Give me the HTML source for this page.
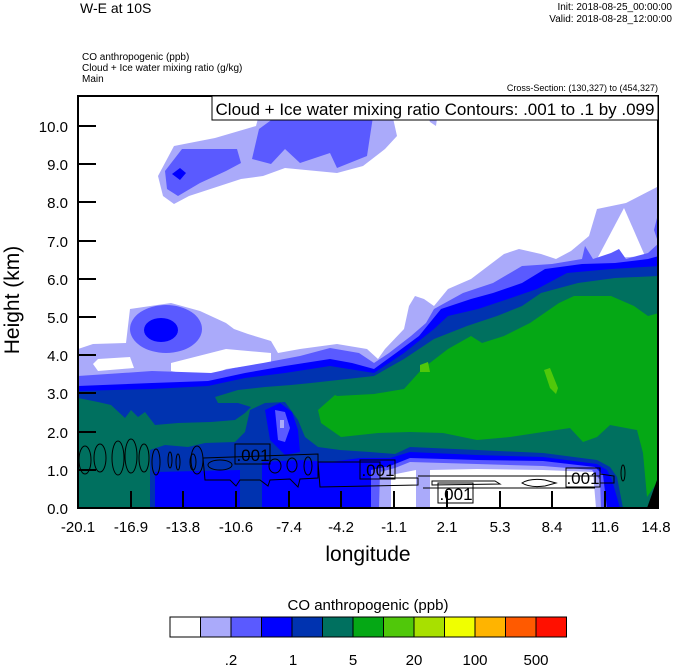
<!DOCTYPE html>
<html><head><meta charset="utf-8"><style>
html,body{margin:0;padding:0;background:#fff;}
svg{display:block;font-family:"Liberation Sans",sans-serif;}
</style></head><body>
<svg width="674" height="667" viewBox="0 0 674 667" xmlns="http://www.w3.org/2000/svg">
<rect width="674" height="667" fill="#fff"/>
<defs><clipPath id="c"><rect x="78" y="96" width="580" height="412"/></clipPath></defs>
<g clip-path="url(#c)">
<!-- upper cloud -->
<polygon fill="#aaaafa" points="158,176 174,146 215,138 256,126 263,100 389,100 397,136 385,149 363,166 337,173 285,168 263,176 241,179 189,196 174,204 163,196"/>
<polygon fill="#aaaafa" points="420,96 440,96 436,126 430,122"/>
<polygon fill="#5a5aff" points="165,171 182,149 237,149 241,163 226,171 200,183 178,196 167,189"/>
<polygon fill="#5a5aff" points="252,159 259,129 285,110 374,110 367,156 337,168 330,153 300,163 285,149 271,164"/>
<polygon fill="#0000ff" points="172,174 180,168 186,173 180,180"/>
<!-- lavender -->
<polygon fill="#aaaafa" points="78,349 93,344 126,343 130,309 171,303 200,311 226,323 234,329 248,334 271,341 278,353 300,349 337,344 367,349 378,359 385,349 404,329 409,306 415,296 424,299 434,306 448,289 471,279 504,254 519,249 541,254 556,259 571,251 589,236 597,209 626,203 659,186 659,508 78,508"/>
<polygon fill="#fff" points="98,359 130,357 134,368 98,371 93,364"/>
<polygon fill="#fff" points="171,363 226,349 271,353 271,363 226,369 204,378 171,371"/>
<polygon fill="#fff" points="597,259 624,208 645,256"/>
<ellipse cx="166" cy="329" rx="36" ry="24" fill="#5a5aff"/>
<ellipse cx="161" cy="330" rx="17" ry="12" fill="#0000ff"/>
<polygon fill="#5a5aff" points="654,230 659,210 659,245"/>
<!-- medium -->
<polygon fill="#5a5aff" points="78,376 152,371 211,373 234,368 263,363 300,356 330,348 359,353 374,363 389,353 411,336 426,323 434,309 463,293 493,283 522,266 552,264 582,259 585,246 593,259 611,253 619,249 626,259 648,253 659,243 659,508 78,508"/>
<!-- blue -->
<polygon fill="#0000ff" points="78,386 152,383 208,381 245,373 285,366 330,359 352,363 374,369 396,353 419,336 441,309 471,299 493,293 522,283 545,269 582,264 615,263 648,259 659,256 659,508 78,508"/>
<!-- dark blue -->
<polygon fill="#0033b0" points="78,391 152,389 208,386 245,378 285,373 330,366 374,373 404,353 434,329 448,316 478,309 508,299 537,289 567,273 611,269 659,266 659,508 78,508"/>
<!-- teal -->
<polygon fill="#00705f" points="78,398 98,402 111,405 125,418 131,410 138,417 145,412 155,425 178,423 211,422 235,420 245,413 251,407 238,403 218,403 215,397 238,390 265,387 291,385 311,383 338,380 374,376 404,359 434,339 467,326 497,316 522,306 541,293 578,283 615,278 659,276 659,508 78,508"/>
<!-- lower dark blue -->
<polygon fill="#0033b0" points="150,508 150,450 165,445 188,447 205,443 235,442 245,432 250,410 265,403 285,402 298,420 305,437 318,447 340,450 370,452 395,454 410,447 477,450 543,453 597,460 610,467 617,477 623,508"/>
<polygon fill="#0000ff" points="265,410 280,403 292,412 298,430 300,452 285,455 270,440"/>
<polygon fill="#5a5aff" points="275,410 285,412 290,428 285,442 278,440"/>
<polygon fill="#aaaafa" points="280,420 284,420 284,428 280,428"/>
<polygon fill="#0000ff" points="155,508 155,472 240,470 240,508"/>
<polygon fill="#0000ff" points="262,508 262,462 300,460 330,462 360,458 390,458 410,452 477,455 543,457 597,464 607,470 612,480 620,508"/>
<polygon fill="#5a5aff" points="371,508 371,470 390,466 410,458 477,460 543,461 595,467 603,475 607,508"/>
<polygon fill="#aaaafa" points="379,508 380,472 395,468 410,462 477,464 543,466 592,470 600,480 601,508"/>
<polygon fill="#fff" points="391,508 391,475 416,470 416,508"/>
<polygon fill="#fff" points="430,508 430,470 477,469 543,470 593,472 596,508"/>
<!-- green -->
<polygon fill="#05a815" points="337,396 374,394 404,389 422,369 448,349 471,336 482,343 504,336 530,323 559,303 574,296 611,296 634,306 648,316 659,313 659,480 647,497 643,453 637,430 610,425 597,437 583,442 570,428 543,432 510,437 477,440 443,433 410,432 378,433 341,437 321,423 318,410 335,395"/>
<polygon fill="#50c80a" points="544,370 550,368 558,388 556,394 550,388"/>
<polygon fill="#50c80a" points="420,365 428,362 430,372 420,372"/>
<polygon fill="#000" points="647,508 657,480 659,480 659,508"/>
<!-- contours -->
<g fill="none" stroke="#000" stroke-width="1">
<ellipse cx="85" cy="460" rx="6" ry="14"/><ellipse cx="100" cy="458" rx="6" ry="14"/>
<ellipse cx="118" cy="458" rx="6" ry="17"/><ellipse cx="131" cy="456" rx="6" ry="17"/>
<ellipse cx="144" cy="458" rx="5" ry="14"/><ellipse cx="156" cy="462" rx="4" ry="13"/>
<ellipse cx="170" cy="460" rx="2" ry="8"/><ellipse cx="178" cy="462" rx="2" ry="8"/>
<ellipse cx="197" cy="460" rx="6" ry="14"/><ellipse cx="193" cy="462" rx="3" ry="8"/>
<path d="M203,458 L318,454 L318,478 L300,479 L298,487 L290,479 L270,480 L268,486 L260,480 L240,480 L236,486 L230,480 L205,480 Z"/>
<ellipse cx="220" cy="465" rx="12" ry="5"/><ellipse cx="275" cy="466" rx="6" ry="7"/><ellipse cx="292" cy="465" rx="5" ry="7"/><ellipse cx="308" cy="466" rx="4" ry="9"/>
<path d="M318,462 L380,462 L380,478 L418,478 L418,485 L320,487 Z"/>
<path d="M418,476 L600,476 M423,488 L595,488"/>
<path d="M432,485 L500,484 L495,481 L432,481 Z"/>
<path d="M522,483 Q530,478 545,480 L556,483 L545,486 Q530,488 522,483 Z"/>
<path d="M600,474 L614,476 L614,483 L600,483"/>
<ellipse cx="623" cy="473" rx="2" ry="8"/>
</g>
<g fill="none" stroke="#000" stroke-width="1">
<rect x="235" y="444" width="35" height="20"/>
<rect x="360" y="460" width="35" height="19"/>
<rect x="438" y="483" width="35" height="20"/>
<rect x="566" y="468" width="34" height="19"/>
</g>
<g font-size="17" text-anchor="middle" fill="#000">
<text x="253" y="461">.001</text>
<text x="378" y="476">.001</text>
<text x="456" y="500">.001</text>
<text x="583" y="484">.001</text>
</g>
</g>
<!-- frame -->
<rect x="78" y="96" width="580" height="412" fill="none" stroke="#000" stroke-width="2"/>
<g stroke="#000" stroke-width="2">
<line x1="78" y1="126" x2="96" y2="126"/><line x1="78" y1="164" x2="96" y2="164"/>
<line x1="78" y1="202" x2="96" y2="202"/><line x1="78" y1="241" x2="96" y2="241"/>
<line x1="78" y1="279" x2="96" y2="279"/><line x1="78" y1="317" x2="96" y2="317"/>
<line x1="78" y1="355" x2="96" y2="355"/><line x1="78" y1="393" x2="96" y2="393"/>
<line x1="78" y1="432" x2="96" y2="432"/><line x1="78" y1="470" x2="96" y2="470"/>
<line x1="131" y1="508" x2="131" y2="491"/><line x1="183" y1="508" x2="183" y2="491"/>
<line x1="236" y1="508" x2="236" y2="491"/><line x1="289" y1="508" x2="289" y2="491"/>
<line x1="341" y1="508" x2="341" y2="491"/><line x1="394" y1="508" x2="394" y2="491"/>
<line x1="447" y1="508" x2="447" y2="491"/><line x1="500" y1="508" x2="500" y2="491"/>
<line x1="552" y1="508" x2="552" y2="491"/><line x1="605" y1="508" x2="605" y2="491"/>
</g>
<rect x="212" y="96" width="446" height="24" fill="#fff" stroke="#000" stroke-width="1"/>
<text x="435" y="115" font-size="17" text-anchor="middle">Cloud + Ice water mixing ratio Contours: .001 to .1 by .099</text>
<g font-size="15" text-anchor="end">
<text x="68" y="132">10.0</text><text x="68" y="170">9.0</text><text x="68" y="208">8.0</text>
<text x="68" y="247">7.0</text><text x="68" y="285">6.0</text><text x="68" y="323">5.0</text>
<text x="68" y="361">4.0</text><text x="68" y="399">3.0</text><text x="68" y="438">2.0</text>
<text x="68" y="476">1.0</text><text x="68" y="514">0.0</text>
</g>
<g font-size="15" text-anchor="middle">
<text x="78" y="532">-20.1</text><text x="131" y="532">-16.9</text><text x="183" y="532">-13.8</text>
<text x="236" y="532">-10.6</text><text x="289" y="532">-7.4</text><text x="341" y="532">-4.2</text>
<text x="394" y="532">-1.1</text><text x="447" y="532">2.1</text><text x="500" y="532">5.3</text>
<text x="552" y="532">8.4</text><text x="605" y="532">11.6</text><text x="656" y="532">14.8</text>
</g>
<text x="368" y="561" font-size="21" text-anchor="middle">longitude</text>
<text x="0" y="0" font-size="21" text-anchor="middle" transform="translate(19,300) rotate(-90)">Height (km)</text>
<text x="80" y="13" font-size="14">W-E at 10S</text>
<g font-size="10" text-anchor="end">
<text x="672" y="10">Init: 2018-08-25_00:00:00</text>
<text x="672" y="22">Valid: 2018-08-28_12:00:00</text>
<text x="658" y="91" font-size="9">Cross-Section: (130,327) to (454,327)</text>
</g>
<g font-size="10">
<text x="82" y="60">CO anthropogenic   (ppb)</text>
<text x="82" y="71">Cloud + Ice water mixing ratio   (g/kg)</text>
<text x="82" y="82">Main</text>
</g>
<text x="368" y="610" font-size="15" text-anchor="middle">CO anthropogenic  (ppb)</text>
<g stroke="#000" stroke-width="1">
<rect x="170" y="617" width="30.5" height="20" fill="#fff"/>
<rect x="200.5" y="617" width="30.5" height="20" fill="#aaaafa"/>
<rect x="231" y="617" width="30.5" height="20" fill="#5a5aff"/>
<rect x="261.5" y="617" width="30.5" height="20" fill="#0000ff"/>
<rect x="292" y="617" width="30.5" height="20" fill="#0033b0"/>
<rect x="322.5" y="617" width="30.5" height="20" fill="#00705f"/>
<rect x="353" y="617" width="30.5" height="20" fill="#05a815"/>
<rect x="383.5" y="617" width="30.5" height="20" fill="#50c80a"/>
<rect x="414" y="617" width="30.5" height="20" fill="#a8e000"/>
<rect x="444.5" y="617" width="30.5" height="20" fill="#f0ff00"/>
<rect x="475" y="617" width="30.5" height="20" fill="#ffb400"/>
<rect x="505.5" y="617" width="30.5" height="20" fill="#ff5a00"/>
<rect x="536" y="617" width="30.5" height="20" fill="#ff1000"/>
</g>
<g font-size="15" text-anchor="middle">
<text x="231" y="665">.2</text><text x="293" y="665">1</text><text x="353" y="665">5</text>
<text x="414" y="665">20</text><text x="475" y="665">100</text><text x="536" y="665">500</text>
</g>
</svg>
</body></html>
